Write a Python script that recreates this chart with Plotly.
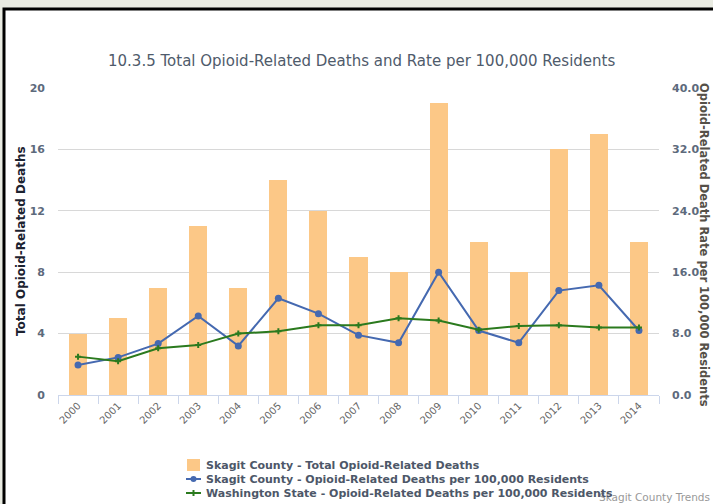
import plotly.graph_objects as go

# ---- data ----
years = [str(y) for y in range(2000, 2015)]
total_deaths = [4, 5, 7, 11, 7, 14, 12, 9, 8, 19, 10, 8, 16, 17, 10]
skagit_rate = [3.9, 4.9, 6.7, 10.3, 6.4, 12.6, 10.6, 7.8, 6.8, 16.0, 8.4, 6.8, 13.6, 14.3, 8.4]
wa_rate = [5.0, 4.4, 6.1, 6.5, 8.0, 8.3, 9.1, 9.1, 10.0, 9.7, 8.5, 9.0, 9.1, 8.8, 8.8]

series_names = [
    "Skagit County - Total Opioid-Related Deaths",
    "Skagit County - Opioid-Related Deaths per 100,000 Residents",
    "Washington State - Opioid-Related Deaths per 100,000 Residents",
]
title_text = "10.3.5 Total Opioid-Related Deaths and Rate per 100,000 Residents"
left_title = "Total Opioid-Related Deaths"
right_title = "Opioid-Related Death Rate per 100,000 Residents"
credit_text = "Skagit County Trends"

BAR = "#fcc887"
BLUE = "#4569b0"
GREEN = "#2b7a1e"
FONT = "DejaVu Sans"

# ---- page geometry (pixels) ----
W, H = 713, 504
L, R, T, B = 58, 54, 88, 109
PW, PH = W - L - R, H - T - B


def px(x):
    return (x - L) / PW


def py(y):
    return (H - B - y) / PH


fig = go.Figure()
fig.add_trace(go.Bar(x=years, y=total_deaths, name=series_names[0],
                     marker=dict(color=BAR, line=dict(width=0)), width=0.45,
                     yaxis="y", showlegend=False))
fig.add_trace(go.Scatter(x=years, y=skagit_rate, name=series_names[1], mode="lines+markers",
                         line=dict(color=BLUE, width=2), marker=dict(color=BLUE, size=7),
                         yaxis="y2", showlegend=False))
fig.add_trace(go.Scatter(x=years, y=wa_rate, name=series_names[2], mode="lines+markers",
                         line=dict(color=GREEN, width=2),
                         marker=dict(color=GREEN, size=5, symbol="cross"),
                         yaxis="y2", showlegend=False))

shapes = [
    # framed white panel
    dict(type="rect", xref="paper", yref="paper", layer="below",
         x0=px(4), x1=px(760), y0=py(9), y1=py(560),
         fillcolor="white", line=dict(color="black", width=3)),
]
annotations = [
    dict(text=title_text, xref="paper", yref="paper", x=px(361), y=py(61),
         showarrow=False, xanchor="center", yanchor="middle",
         font=dict(family=FONT, size=15, color="#4f5b6b")),
    dict(text=left_title, xref="paper", yref="paper", x=px(21), y=py(241),
         showarrow=False, textangle=-90, xanchor="center", yanchor="middle",
         font=dict(family=FONT, size=12, color="#1c2230", weight="bold")),
    dict(text=right_title, xref="paper", yref="paper", x=px(704), y=py(245),
         showarrow=False, textangle=90, xanchor="center", yanchor="middle",
         font=dict(family=FONT, size=11.5, color="#555048", weight="bold")),
    dict(text=credit_text, xref="paper", yref="paper", x=px(597), y=py(497),
         showarrow=False, xanchor="left", yanchor="middle",
         font=dict(family=FONT, size=10.5, color="#999999")),
]

# hand-built legend
rows = [465, 479, 493]
sym_x0, sym_x1, text_x = 186, 201, 204
shapes.append(dict(type="rect", xref="paper", yref="paper",
                   x0=px(187), x1=px(200), y0=py(rows[0] + 6), y1=py(rows[0] - 6),
                   fillcolor=BAR, line=dict(width=0)))
for yy, col in ((rows[1], BLUE), (rows[2], GREEN)):
    shapes.append(dict(type="line", xref="paper", yref="paper",
                       x0=px(sym_x0), x1=px(sym_x1), y0=py(yy), y1=py(yy),
                       line=dict(color=col, width=2)))
cx = (sym_x0 + sym_x1) / 2
shapes.append(dict(type="circle", xref="paper", yref="paper",
                   x0=px(cx - 3), x1=px(cx + 3), y0=py(rows[1] + 3), y1=py(rows[1] - 3),
                   fillcolor=BLUE, line=dict(width=0)))
shapes.append(dict(type="line", xref="paper", yref="paper",
                   x0=px(cx), x1=px(cx), y0=py(rows[2] + 3), y1=py(rows[2] - 3),
                   line=dict(color=GREEN, width=2)))
for name, yy in zip(series_names, rows):
    annotations.append(dict(text=name, xref="paper", yref="paper", x=px(text_x), y=py(yy),
                            showarrow=False, xanchor="left", yanchor="middle",
                            font=dict(family=FONT, size=11, color="#4d5768", weight="bold")))

fig.update_layout(
    width=W, height=H,
    margin=dict(l=L, r=R, t=T, b=B, pad=0),
    paper_bgcolor="#e9ebe2",
    plot_bgcolor="white",
    font=dict(family=FONT),
    showlegend=False,
    bargap=0,
    xaxis=dict(type="category", range=[-0.5, 14.5], showline=True, linecolor="#ccd6eb",
               linewidth=1, ticks="outside", tickson="boundaries", ticklen=8,
               tickcolor="#ccd6eb", tickangle=-45, showgrid=False, automargin=False,
               tickfont=dict(family=FONT, size=10, color="#666666")),
    yaxis=dict(range=[0, 20], tickvals=[0, 4, 8, 12, 16, 20], showgrid=True,
               gridcolor="#d8d8d8", gridwidth=1, zeroline=False, showline=False,
               ticks="", ticklabelstandoff=12, automargin=False,
               tickfont=dict(family=FONT, size=11, color="#5d6a7c", weight="bold")),
    yaxis2=dict(range=[0, 40], tickvals=[0, 8, 16, 24, 32, 40], tickformat=".1f",
                overlaying="y", side="right", showgrid=False, zeroline=False,
                showline=False, ticks="", ticklabelstandoff=12, automargin=False,
                tickfont=dict(family=FONT, size=11, color="#5d6a7c", weight="bold")),
    shapes=shapes,
    annotations=annotations,
)

fig.write_html("out.html")
